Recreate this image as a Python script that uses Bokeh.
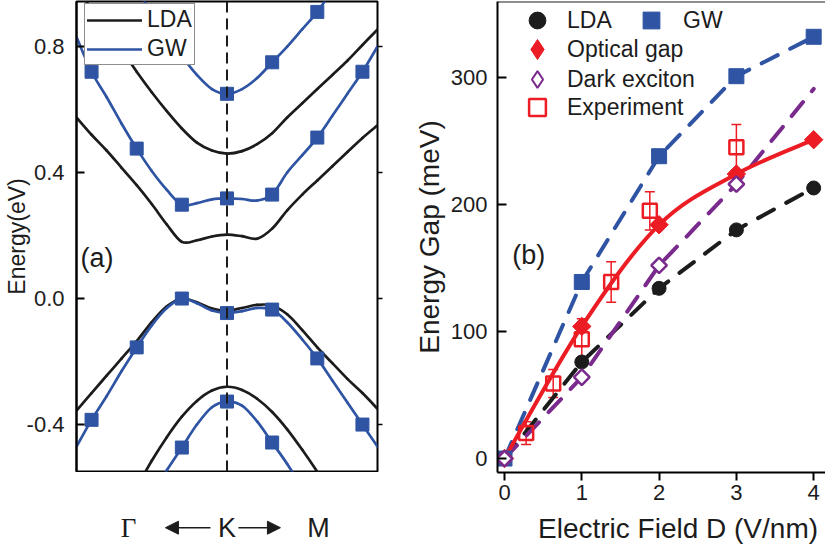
import math

from bokeh.embed import file_html
from bokeh.layouts import column, row
from bokeh.models import (Arrow, ColumnDataSource, FixedTicker, Label, Legend,
                          LegendItem, LinearAxis, NormalHead, NumeralTickFormatter,
                          Range1d, Span, TeeHead, Whisker)
from bokeh.plotting import figure
from bokeh.resources import INLINE

NAN = float("nan")

# ---------------- (a) band structure around K (energies in eV) ----------------
k_path = [-1.0, -0.9, -0.8, -0.7, -0.6, -0.5, -0.4, -0.3, -0.2, -0.1, 0.0,
          0.1, 0.2, 0.3, 0.4, 0.5, 0.6, 0.7, 0.8, 0.9, 1.0]

lda_cb2 = [0.99, 0.92, 0.86, 0.79, 0.72, 0.655, 0.595, 0.54, 0.495, 0.47, 0.46,
           0.468, 0.49, 0.525, 0.575, 0.62, 0.665, 0.71, 0.755, 0.805, 0.854]
lda_cb1 = [0.575, 0.52, 0.47, 0.415, 0.36, 0.30, 0.235, 0.18, 0.185, 0.197, 0.203,
           0.198, 0.19, 0.222, 0.28, 0.33, 0.375, 0.42, 0.465, 0.51, 0.55]
lda_vb1 = [-0.356, -0.30, -0.245, -0.19, -0.135, -0.075, -0.025, 0.0, -0.012, -0.032, -0.038,
           -0.03, -0.02, -0.022, -0.05, -0.10, -0.155, -0.205, -0.255, -0.30, -0.35]
lda_vb2 = [NAN, NAN, NAN, NAN, -0.60, -0.515, -0.44, -0.375, -0.325, -0.292, -0.28,
           -0.29, -0.318, -0.36, -0.415, -0.48, -0.55, -0.625, NAN, NAN, NAN]

gw_cb2 = [NAN, NAN, NAN, NAN, 0.98, 0.91, 0.84, 0.77, 0.71, 0.665, 0.65,
          0.665, 0.70, 0.75, 0.80, 0.855, 0.91, 0.98, NAN, NAN, NAN]
gw_cb1 = [0.83, 0.72, 0.64, 0.555, 0.476, 0.405, 0.345, 0.298, 0.303, 0.315, 0.318,
          0.316, 0.311, 0.33, 0.40, 0.455, 0.511, 0.58, 0.65, 0.72, 0.80]
gw_vb1 = [-0.47, -0.385, -0.31, -0.23, -0.155, -0.085, -0.03, 0.0, -0.015, -0.038, -0.046,
          -0.04, -0.03, -0.035, -0.075, -0.13, -0.19, -0.26, -0.33, -0.40, -0.47]
gw_vb2 = [NAN, NAN, NAN, NAN, NAN, -0.62, -0.545, -0.473, -0.40, -0.345, -0.327,
          -0.34, -0.39, -0.457, -0.525, -0.60, NAN, NAN, NAN, NAN, NAN]

# k points where the GW quasiparticle energies were computed
gw_point_index = [1, 4, 7, 10, 13, 16, 19]

energy_ticks = [-0.4, 0.0, 0.4, 0.8]
kpoint_names = ["\u0393", "K", "M"]
kpoint_label_x = [-0.654, 0.0, 0.608]
# the two arrows pointing from K towards Gamma and towards M
kpath_arrows = [(-0.110, -0.409), (0.076, 0.355)]

# ---------------- (b) gaps versus displacement field (meV) ----------------
field = [0, 1, 2, 3, 4]
gap_lda = [0, 76, 134, 180, 213]
gap_gw = [0, 139, 238, 301, 332]
gap_optical = [0, 104, 184, 224, 251]
gap_dark = [0, 64, 152, 216, 291]
dark_marked = 4  # markers only on the first four dark-exciton points

exp_field = [0.28, 0.63, 1.0, 1.38, 1.88, 3.0]
exp_gap = [20, 59, 94, 139, 195, 245]
exp_err = [9, 11, 16, 16, 15, 18]

field_ticks = [0, 1, 2, 3, 4]
gap_ticks = [0, 100, 200, 300]

BLACK = "#1c1c1c"
BLUE = "#2f54a3"
RED = "#ec1c24"
PURPLE = "#7a2a8c"
FONT = "Liberation Sans"


def smooth(xs, ys):
    """Catmull-Rom curve through the given points, as cubic Bezier segments."""
    pts = [(x, y) for x, y in zip(xs, ys) if not math.isnan(y)]
    n = len(pts)
    seg = {k: [] for k in ("x0", "y0", "x1", "y1", "cx0", "cy0", "cx1", "cy1")}
    for i in range(n - 1):
        xa, ya = pts[max(i - 1, 0)]
        xb, yb = pts[i]
        xc, yc = pts[i + 1]
        xd, yd = pts[min(i + 2, n - 1)]
        seg["x0"].append(xb)
        seg["y0"].append(yb)
        seg["x1"].append(xc)
        seg["y1"].append(yc)
        seg["cx0"].append(xb + (xc - xa) / 6)
        seg["cy0"].append(yb + (yc - ya) / 6)
        seg["cx1"].append(xc - (xd - xb) / 6)
        seg["cy1"].append(yc - (yd - yb) / 6)
    return ColumnDataSource(seg)


def draw_curve(p, xs, ys, color, width):
    return p.bezier(x0="x0", y0="y0", x1="x1", y1="y1", cx0="cx0", cy0="cy0",
                    cx1="cx1", cy1="cy1", source=smooth(xs, ys),
                    line_color=color, line_width=width, line_cap="round")


def bare(p):
    p.grid.visible = False
    p.xaxis.visible = False
    p.yaxis.visible = False
    p.outline_line_color = None


# ======================= panel (a) =======================
pa = figure(width=400, height=472, x_range=Range1d(-1.0, 1.0),
            y_range=Range1d(-0.549, 0.943), output_backend="svg",
            toolbar_location=None, min_border_left=76, min_border_right=23,
            min_border_top=1, min_border_bottom=1)
pa.grid.visible = False
pa.xaxis.visible = False
pa.outline_line_color = "black"
pa.outline_line_width = 2

ya = pa.yaxis[0]
ya.ticker = FixedTicker(ticks=energy_ticks)
ya.formatter = NumeralTickFormatter(format="0.0")
ya.major_tick_in = 8
ya.major_tick_out = 0
ya.major_tick_line_width = 2
ya.minor_tick_line_color = None
ya.axis_line_width = 2
ya.major_label_standoff = 12
ya.major_label_text_font = FONT
ya.major_label_text_font_size = "22px"
ya.major_label_text_color = BLACK
ya.axis_label = "Energy(eV)"
ya.axis_label_text_font = FONT
ya.axis_label_text_font_size = "23px"
ya.axis_label_text_font_style = "normal"
ya.axis_label_text_color = BLACK
ya.axis_label_standoff = -6

ra = LinearAxis(ticker=FixedTicker(ticks=energy_ticks), major_tick_in=0,
                major_tick_out=5, major_tick_line_width=1.5,
                minor_tick_line_color=None, axis_line_color=None,
                major_label_overrides={t: "" for t in energy_ticks})
pa.add_layout(ra, "right")

lda_r = None
for band in (lda_cb2, lda_cb1, lda_vb1, lda_vb2):
    r = draw_curve(pa, k_path, band, BLACK, 2.7)
    lda_r = lda_r or r
gw_r = None
for band in (gw_cb2, gw_cb1, gw_vb1, gw_vb2):
    r = draw_curve(pa, k_path, band, BLUE, 2.7)
    gw_r = gw_r or r
    mk = [(k_path[i], band[i]) for i in gw_point_index if not math.isnan(band[i])]
    pa.scatter([m[0] for m in mk], [m[1] for m in mk], marker="square",
               size=13, color=BLUE)

pa.add_layout(Span(location=0.0, dimension="height", line_color=BLACK,
                   line_width=2, line_dash="11 6"))

leg_a = Legend(items=[LegendItem(label="LDA", renderers=[lda_r]),
                      LegendItem(label="GW", renderers=[gw_r])],
               location=(8, 406), padding=2, spacing=2, margin=0,
               glyph_width=55, glyph_height=26, label_standoff=5,
               label_text_font=FONT, label_text_font_size="23px",
               label_text_color=BLACK, border_line_color=BLACK,
               border_line_width=1.5, background_fill_color="white",
               background_fill_alpha=1.0)
pa.add_layout(leg_a)

pa.add_layout(Label(x=-0.973, y=0.13, text="(a)", text_font=FONT,
                    text_font_size="27px", text_color=BLACK,
                    text_align="left", text_baseline="middle"))

# k-path annotation strip under panel (a)
ka = figure(width=400, height=80, x_range=pa.x_range, y_range=Range1d(0.0, 1.0),
            output_backend="svg", toolbar_location=None, min_border_left=76,
            min_border_right=23, min_border_top=0, min_border_bottom=0)
bare(ka)
y_k = 0.31
for name, kx in zip(kpoint_names, kpoint_label_x):
    ka.add_layout(Label(x=kx, y=y_k, text=name,
                        text_font="Liberation Serif" if name == "\u0393" else FONT,
                        text_font_size="27px", text_color=BLACK,
                        text_align="center", text_baseline="middle"))
for x_from, x_to in kpath_arrows:
    ka.add_layout(Arrow(end=NormalHead(size=13, fill_color=BLACK, line_color=BLACK),
                        x_start=x_from, y_start=y_k, x_end=x_to, y_end=y_k,
                        line_color=BLACK, line_width=1.5))

# ======================= panel (b) =======================
pb = figure(width=425, height=510, x_range=Range1d(-0.0906, 4.153),
            y_range=Range1d(-11.0, 359.8), output_backend="svg",
            toolbar_location=None, min_border_left=97, min_border_right=0,
            min_border_top=1, min_border_bottom=38)
pb.grid.visible = False
pb.outline_line_color = None
pb.add_layout(Span(location=359.8, dimension="width", line_color=BLACK,
                   line_width=2))

xb = pb.xaxis[0]
xb.ticker = FixedTicker(ticks=field_ticks)
xb.major_tick_in = 0
xb.major_tick_out = 8
xb.major_tick_line_width = 2
xb.minor_tick_line_color = None
xb.axis_line_width = 2
xb.major_label_standoff = 4
xb.major_label_text_font = FONT
xb.major_label_text_font_size = "22px"
xb.major_label_text_color = BLACK

yb = pb.yaxis[0]
yb.ticker = FixedTicker(ticks=gap_ticks)
yb.major_tick_in = 9
yb.major_tick_out = 0
yb.major_tick_line_width = 2
yb.minor_tick_line_color = None
yb.axis_line_width = 2
yb.major_label_standoff = 10
yb.major_label_text_font = FONT
yb.major_label_text_font_size = "22px"
yb.major_label_text_color = BLACK
yb.axis_label = "Energy Gap (meV)"
yb.axis_label_text_font = FONT
yb.axis_label_text_font_size = "28px"
yb.axis_label_text_font_style = "normal"
yb.axis_label_text_color = BLACK
yb.axis_label_standoff = 3

dash = dict(line_width=4, line_dash="18 14", line_cap="round")
pb.line(field, gap_lda, line_color=BLACK, **dash)
pb.line(field, gap_gw, line_color=BLUE, **dash)
pb.line(field, gap_dark, line_color=PURPLE, **dash)
draw_curve(pb, field, gap_optical, RED, 4)

err_src = ColumnDataSource(dict(x=exp_field,
                                upper=[g + e for g, e in zip(exp_gap, exp_err)],
                                lower=[g - e for g, e in zip(exp_gap, exp_err)]))
pb.add_layout(Whisker(base="x", upper="upper", lower="lower", source=err_src,
                      line_color=RED, line_width=1.5,
                      upper_head=TeeHead(size=10, line_color=RED, line_width=1.5),
                      lower_head=TeeHead(size=10, line_color=RED, line_width=1.5)))

r_lda = pb.scatter(field, gap_lda, marker="circle", size=14, color=BLACK)
r_gw = pb.scatter(field, gap_gw, marker="square", size=15, color=BLUE)
# diamond keys (legend symbols), covered by the rotated squares drawn on top
key_opt = pb.scatter(field, gap_optical, marker="diamond", size=12, color=RED)
r_exp = pb.scatter(exp_field, exp_gap, marker="square", size=14,
                   fill_color=None, line_color=RED, line_width=2.5)
pb.scatter(field, gap_optical, marker="square", angle=math.pi / 4,
           size=13, color=RED)
key_dark = pb.scatter(field[:dark_marked], gap_dark[:dark_marked], marker="diamond",
                      size=11, fill_color="white", line_color=PURPLE, line_width=2)
pb.scatter(field[:dark_marked], gap_dark[:dark_marked], marker="square",
           angle=math.pi / 4, size=11, fill_color="white",
           line_color=PURPLE, line_width=2.5)


def key(label, renderer, cx, cy, glyph, standoff, line_width=None):
    """One legend entry whose symbol is centred at (cx, cy) on the page."""
    top = cy - glyph / 2
    leg = Legend(items=[LegendItem(label=label, renderers=[renderer])],
                 location=(cx - glyph / 2 - 497, 472 - top - glyph),
                 padding=0, margin=0, spacing=0, glyph_width=glyph,
                 glyph_height=glyph, label_standoff=standoff,
                 label_text_font=FONT, label_text_font_size="23px",
                 label_text_color=BLACK, border_line_color=None,
                 background_fill_alpha=0.0)
    pb.add_layout(leg)


key("LDA", r_lda, 537, 20, 42, 9)
key("GW", r_gw, 651, 20, 42, 11)
key("Optical gap", key_opt, 537, 49, 50, 5)
key("Dark exciton", key_dark, 537, 79, 42, 9)
key("Experiment", r_exp, 537, 107, 42, 9)

pb.add_layout(Label(x=0.10, y=160, text="(b)", text_font=FONT,
                    text_font_size="27px", text_color=BLACK,
                    text_align="left", text_baseline="middle"))

# axis title strip under panel (b)
kb = figure(width=425, height=42, x_range=pb.x_range, y_range=Range1d(0.0, 1.0),
            output_backend="svg", toolbar_location=None, min_border_left=97,
            min_border_right=0, min_border_top=0, min_border_bottom=0)
bare(kb)
kb.add_layout(Label(x=2.245, y=0.583, text="Electric Field D (V/nm)",
                    text_font=FONT, text_font_size="28px", text_color=BLACK,
                    text_align="center", text_baseline="middle"))

layout = row(column(pa, ka), column(pb, kb))
open("out.html", "w").write(file_html(layout, INLINE))
